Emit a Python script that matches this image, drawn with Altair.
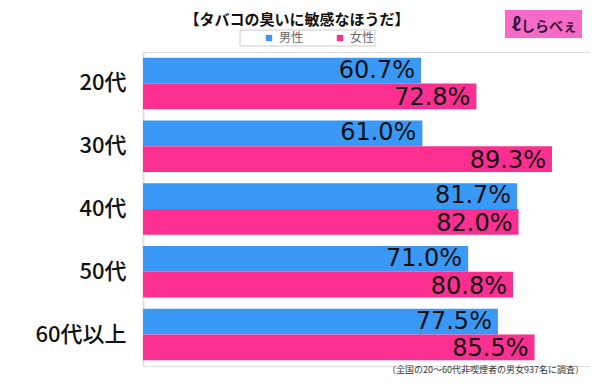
import altair as alt
import pandas as pd

ages = ["20代", "30代", "40代", "50代", "60代以上"]
male = [60.7, 61.0, 81.7, 71.0, 77.5]
female = [72.8, 89.3, 82.0, 80.8, 85.5]
genders = ["男性", "女性"]
colors = ["#3a98f7", "#fb2f8f"]
title_text = "【タバコの臭いに敏感なほうだ】"
note_text = "（全国の20〜60代非喫煙者の男女937名に調査）"
logo_text = "しらべぇ"

rows = []
for a, m, f in zip(ages, male, female):
    rows.append({"age": a, "gender": "男性", "value": m})
    rows.append({"age": a, "gender": "女性", "value": f})
df = pd.DataFrame(rows)
df["label"] = df["value"].map(lambda v: f"{v:.1f}%")

FONT = "Noto Sans CJK JP"
NUMFONT = "DejaVu Sans"
W, H = 447, 314

xenc = alt.X("value:Q", scale=alt.Scale(domain=[0, 97.6]), axis=None)
yenc = alt.Y(
    "age:N",
    sort=ages,
    scale=alt.Scale(paddingInner=0.18, paddingOuter=0.09),
    axis=alt.Axis(
        title=None, labelFontSize=22, labelFont=FONT, labelFontWeight=500,
        labelColor="#111111", labelPadding=17, ticks=False,
        domainColor="#e2e2e2", domainWidth=2,
    ),
)
yoff = alt.YOffset("gender:N", sort=genders)

base = alt.Chart(df)

bars = base.mark_bar().encode(
    x=xenc,
    y=yenc,
    yOffset=yoff,
    color=alt.Color(
        "gender:N",
        sort=genders,
        scale=alt.Scale(domain=genders, range=colors),
        legend=alt.Legend(
            orient="none", legendX=120, legendY=-20, direction="horizontal",
            title=None, symbolType="square", symbolSize=40, symbolStrokeWidth=0,
            labelFontSize=12, labelFont=FONT, labelColor="#666666",
            columnPadding=30, padding=0, labelOffset=4,
        ),
    ),
)

labels_m = base.transform_filter(alt.datum.gender == "男性").mark_text(
    align="right", baseline="middle", dx=-6, dy=0, fontSize=24, font=NUMFONT, color="#111111"
).encode(x=xenc, y=yenc, yOffset=yoff, text="label:N")
labels_f = base.transform_filter(alt.datum.gender == "女性").mark_text(
    align="right", baseline="middle", dx=-6, dy=2, fontSize=24, font=NUMFONT, color="#111111"
).encode(x=xenc, y=yenc, yOffset=yoff, text="label:N")

legend_box = alt.Chart(pd.DataFrame({"k": [0]})).mark_rect(
    fill="white", stroke="#cccccc", strokeWidth=1
).encode(x=alt.value(97), x2=alt.value(232), y=alt.value(-22), y2=alt.value(-6))

title = alt.Chart(pd.DataFrame({"t": [title_text]})).mark_text(
    fontSize=15, fontWeight="bold", font=FONT, color="#111111", align="center", baseline="middle"
).encode(x=alt.value(154), y=alt.value(-32), text="t:N")

note = alt.Chart(pd.DataFrame({"t": [note_text]})).mark_text(
    fontSize=9, font=FONT, color="#333333", align="right", baseline="middle"
).encode(x=alt.value(441), y=alt.value(318), text="t:N")

logo_bg = alt.Chart(pd.DataFrame({"k": [0]})).mark_rect(fill="#f76bc8").encode(
    x=alt.value(362), x2=alt.value(439), y=alt.value(-42), y2=alt.value(-14)
)
logo_txt = alt.Chart(pd.DataFrame({"t": [logo_text]})).mark_text(
    fontSize=14, fontWeight="bold", font=FONT, color="#3a1838", align="center", baseline="middle"
).encode(x=alt.value(406), y=alt.value(-25), text="t:N")
logo_icon = alt.Chart(pd.DataFrame({"t": ["ℓ"]})).mark_text(
    fontSize=18, fontWeight="bold", font=FONT, color="#3a1838", align="center", baseline="middle"
).encode(x=alt.value(373), y=alt.value(-26), text="t:N")

chart = alt.layer(
    legend_box, bars, labels_m, labels_f, title, note, logo_bg, logo_txt, logo_icon
).properties(
    width=W, height=H,
    autosize=alt.AutoSizeParams(type="none"),
    padding={"left": 135, "top": 44, "right": 0, "bottom": 10},
).configure_view(stroke=None).configure(font=FONT)

chart.save("out.html", embed_options={"renderer": "svg", "actions": False})
